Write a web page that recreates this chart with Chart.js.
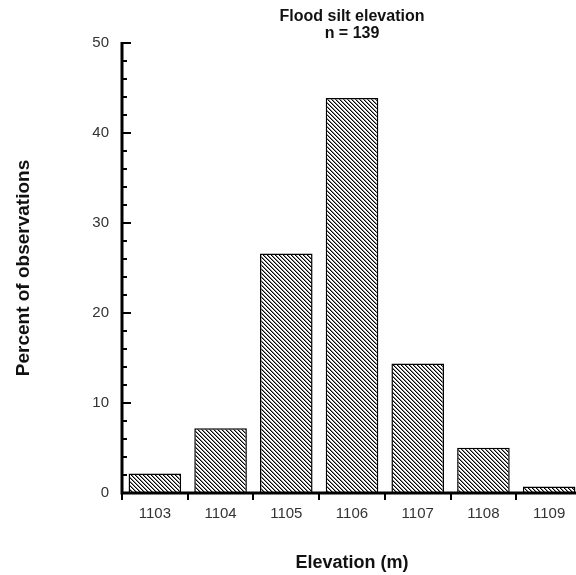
<!DOCTYPE html>
<html>
<head>
<meta charset="utf-8">
<script src="https://cdn.jsdelivr.net/npm/chart.js@4.4.0/dist/chart.umd.min.js"></script>
<style>
  html, body { margin: 0; padding: 0; background: #fff; overflow: hidden; }
  canvas { display: block; }
</style>
</head>
<body>
<canvas id="grafico_silte" width="582" height="575"></canvas>
<script>
// dados (percentual de observacoes, n = 139)
const elevacoes = ['1103', '1104', '1105', '1106', '1107', '1108', '1109'];
const percentuais = [2.16, 7.19, 26.62, 43.88, 14.39, 5.04, 0.72];
const ticksY = [0, 10, 20, 30, 40, 50];
const titulo = ['Flood silt elevation', 'n = 139'];
const tituloX = 'Elevation (m)';
const tituloY = 'Percent of observations';

// hachura diagonal "\\\"
const tile = document.createElement('canvas');
tile.width = 4; tile.height = 4;
const tctx = tile.getContext('2d');
tctx.fillStyle = '#fff';
tctx.fillRect(0, 0, 4, 4);
for (let i = 0; i < 4; i++) {
  tctx.fillStyle = '#000';
  tctx.fillRect(i, i, 1, 1);
  tctx.fillStyle = '#888';
  tctx.fillRect((i + 1) % 4, i, 1, 1);
}
const hachura = tctx.createPattern(tile, 'repeat');

const eixos = {
  id: 'eixos',
  afterDraw(chart) {
    const ctx = chart.ctx;
    const x = chart.scales.x, y = chart.scales.y;
    const area = chart.chartArea;
    const y0 = y.getPixelForValue(0);
    ctx.save();
    ctx.strokeStyle = '#000';
    // linhas dos eixos
    ctx.lineWidth = 3;
    ctx.beginPath();
    ctx.moveTo(area.left, y.getPixelForValue(50) - 1);
    ctx.lineTo(area.left, y0 + 1.5);
    ctx.moveTo(area.left - 1.5, y0);
    ctx.lineTo(chart.width, y0);
    ctx.stroke();
    // marcas do eixo y (para dentro)
    ctx.lineWidth = 2;
    ctx.beginPath();
    for (let v = 0; v <= 50; v += 2) {
      const py = Math.round(y.getPixelForValue(v));
      const len = v % 10 === 0 ? 9 : 5;
      ctx.moveTo(area.left, py);
      ctx.lineTo(area.left + len, py);
    }
    // marcas do eixo x (para baixo, entre as categorias)
    for (let i = 0; i <= elevacoes.length; i++) {
      const px = Math.round(x.getPixelForValue(i - 0.5));
      ctx.moveTo(px, y0);
      ctx.lineTo(px, y0 + 7);
    }
    ctx.stroke();
    // titulos
    ctx.fillStyle = '#111';
    ctx.textAlign = 'center';
    ctx.textBaseline = 'alphabetic';
    const cx = (area.left + area.right) / 2;
    ctx.font = 'bold 16px "Liberation Sans", Arial, sans-serif';
    ctx.fillText(titulo[0], cx, 21);
    ctx.fillText(titulo[1], cx, 38);
    ctx.font = 'bold 18px "Liberation Sans", Arial, sans-serif';
    ctx.fillText(tituloX, cx, 568);
    ctx.translate(29, 268);
    ctx.rotate(-Math.PI / 2);
    ctx.font = 'bold 19px "Liberation Sans", Arial, sans-serif';
    ctx.fillText(tituloY, 0, 0);
    ctx.restore();
  }
};

const graficoSilte = document.getElementById('grafico_silte');

new Chart(graficoSilte, {
  type: 'bar',
  data: {
    labels: elevacoes,
    datasets: [{
      label: tituloY,
      data: percentuais,
      backgroundColor: hachura,
      borderColor: '#000',
      borderWidth: 1.5,
      barPercentage: 0.8,
      categoryPercentage: 1
    }]
  },
  options: {
    responsive: false,
    animation: false,
    layout: { padding: { top: 43, left: 0, right: 0, bottom: 0 } },
    plugins: {
      legend: { display: false },
      title: { display: false },
      tooltip: { enabled: false }
    },
    scales: {
      x: {
        grid: { display: false },
        border: { display: false },
        ticks: {
          color: '#333',
          padding: 4,
          font: { family: '"Liberation Sans", Arial, sans-serif', size: 15 }
        },
        afterFit: (s) => { s.height = 82; }
      },
      y: {
        min: 0,
        max: 50,
        grid: { display: false },
        border: { display: false },
        afterBuildTicks: (s) => { s.ticks = ticksY.map(v => ({ value: v })); },
        ticks: {
          color: '#333',
          padding: 5,
          font: { family: '"Liberation Sans", Arial, sans-serif', size: 15 }
        },
        afterFit: (s) => { s.width = 122; }
      }
    }
  },
  plugins: [eixos]
});
</script>
</body>
</html>
